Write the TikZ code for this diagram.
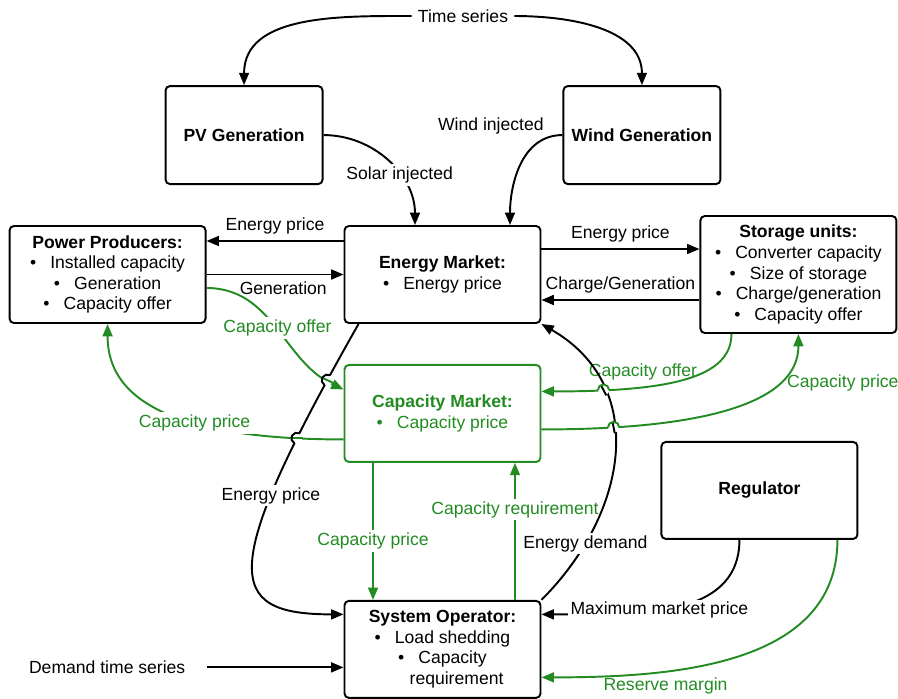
\documentclass[tikz,border=0pt]{standalone}
\usepackage{fontspec}
\setmainfont{Liberation Sans}
\usetikzlibrary{arrows.meta, positioning, calc, intersections}
\definecolor{capgreen}{RGB}{34,139,34}
\newcommand{\bul}{\textbullet\hspace{0.8em}}
% line hop: point, crossed style, crossed angle, hop style, hop angle
\newcommand{\hop}[5]{%
  \fill[white] (#1) circle (3.2pt);
  \draw[#2] (#1) ++(#3:3.4pt) -- ++({#3+180}:6.8pt);
  \draw[#4] (#1) ++({#5+180}:3.2pt) arc[start angle={#5+180}, end angle=#5, radius=3.2pt];}

\begin{document}
\begin{tikzpicture}[
    font=\fontsize{10}{11.7}\selectfont,
    box/.style={draw, line width=1.1pt, rectangle, rounded corners=2.5pt, minimum width=3.92cm, minimum height=1.94cm, align=center, inner sep=2pt},
    gbox/.style={box, draw=capgreen, text=capgreen},
    bline/.style={line width=1.1pt},
    gline/.style={bline, capgreen},
    arrow/.style={bline, -{Triangle[length=7pt, width=5.6pt]}},
    garrow/.style={arrow, capgreen},
    lbl/.style={fill=white, inner sep=1.5pt}
]
    \useasboundingbox (-8.85,5.49) rectangle (9.11,-8.47);

    \node[box] (em) at (0,0) {\textbf{Energy Market:}\\ \bul Energy price};
    \node[box, left=2.74cm of em] (pp) {\textbf{Power Producers:}\\ \bul Installed capacity\\ \bul Generation\\ \bul Capacity offer};
    \node[box, minimum height=2.34cm, right=3.16cm of em] (st) {\textbf{Storage units:}\\ \bul Converter capacity\\ \bul Size of storage\\ \bul Charge/generation\\ \bul Capacity offer};
    \node[gbox, below=0.8cm of em] (cm) {\textbf{Capacity Market:}\\ \bul Capacity price};
    \node[box, below=2.74cm of cm] (so) {\textbf{System Operator:}\\ \bul Load shedding\\ \bul Capacity\\ \hspace*{1.6em}requirement};
    \node[box, minimum width=3.14cm, minimum height=1.96cm, above left=0.8cm and 0.4cm of em] (pv) {\textbf{PV Generation}};
    \node[box, minimum width=3.14cm, minimum height=1.96cm, above right=0.8cm and 0.42cm of em] (wind) {\textbf{Wind Generation}};
    \node[box, above right=1.2cm and 2.38cm of so] (reg) {\textbf{Regulator}};
    \node (ts) at (0.41,5.17) {Time series};
    \node[left=3.04cm of so, yshift=-0.36cm] (dts) {Demand time series};

    % inputs
    \draw[arrow] (ts) to[out=180, in=90] (pv.north);
    \draw[arrow] (ts) to[out=0, in=90] (wind.north);
    \draw[arrow] (pv) to[out=0, in=90] node[lbl, pos=0.63] {Solar injected} ([xshift=-0.55cm]em.north);
    \draw[arrow] (wind) to[out=180, in=90] node[pos=0, anchor=south east, xshift=-0.24cm, yshift=-0.12cm] {Wind injected} ([xshift=1.35cm]em.north);

    % energy market
    \draw[arrow] ([yshift=0.67cm]em.west) -- node[above] {Energy price} ([yshift=0.67cm]pp.east);
    \draw[arrow] (pp) -- node[below, pos=0.56] {Generation} (em);
    \draw[arrow] ([yshift=0.51cm]em.east) -- node[above] {Energy price} ([yshift=0.51cm]st.west);
    \draw[arrow] ([yshift=-0.51cm]st.west) -- node[above] {Charge/Generation} ([yshift=-0.51cm]em.east);

    % capacity market
    \draw[garrow, name path=ppcm] ([yshift=-0.27cm]pp.east) to[out=0, in=155] node[lbl, pos=0.5] {Capacity offer} ([yshift=0.48cm]cm.west);
    \draw[garrow, name path=cmpp] ([yshift=-0.52cm]cm.west) .. controls +(-4,0) and +(0,-1.2) .. node[lbl, pos=0.33] {Capacity price} (pp.south);
    \draw[garrow, name path=stcm] ([xshift=-1.34cm]st.south) .. controls +(0,-0.9) and +(2.5,0) .. node[above, pos=0.68] {Capacity offer} ([yshift=0.44cm]cm.east);
    \draw[garrow, name path=cmst] ([yshift=-0.32cm]cm.east) .. controls +(3.2,0) and +(0,-1.4) .. node[anchor=west, pos=0.72, xshift=0.08cm] {Capacity price} (st.south);
    \draw[garrow] ([xshift=-1.39cm]cm.south) -- node[lbl, pos=0.57] {Capacity price} ([xshift=-1.39cm]so.north);
    \draw[garrow] ([xshift=1.45cm]so.north) -- node[lbl, pos=0.66] {Capacity requirement} ([xshift=1.45cm]cm.south);

    % system operator
    \draw[arrow, name path=emso] ([xshift=0.3cm]em.south west) .. controls +(-2.8,-4.94) and +(-2.4,0) .. node[lbl, pos=0.3] {Energy price} ([yshift=0.7cm]so.west);
    \draw[arrow, name path=soem] (so.north east) to[out=45, in=-30, looseness=1.15] node[lbl, pos=0.2] {Energy demand} (em.south east);
    \draw[arrow] ([xshift=-0.4cm]reg.south) to[out=-90, in=0] node[lbl, pos=0.55] {Maximum market price} ([yshift=0.7cm]so.east);
    \draw[garrow] ([xshift=1.56cm]reg.south) to[out=-90, in=0] node[below, pos=0.69] {Reserve margin} ([yshift=-0.56cm]so.east);
    \draw[arrow, shorten <=0.3cm] (dts) -- (dts -| so.west);

    % hops
    \path[name intersections={of=emso and ppcm, by=h1}];
    \path[name intersections={of=emso and cmpp, by=h2}];
    \path[name intersections={of=soem and stcm, by=h3}];
    \path[name intersections={of=soem and cmst, by=h4}];
    \hop{h1}{gline}{-25}{bline}{60}
    \hop{h2}{gline}{0}{bline}{62}
    \hop{h3}{bline}{118}{gline}{0}
    \hop{h4}{bline}{101}{gline}{0}
\end{tikzpicture}
\end{document}
